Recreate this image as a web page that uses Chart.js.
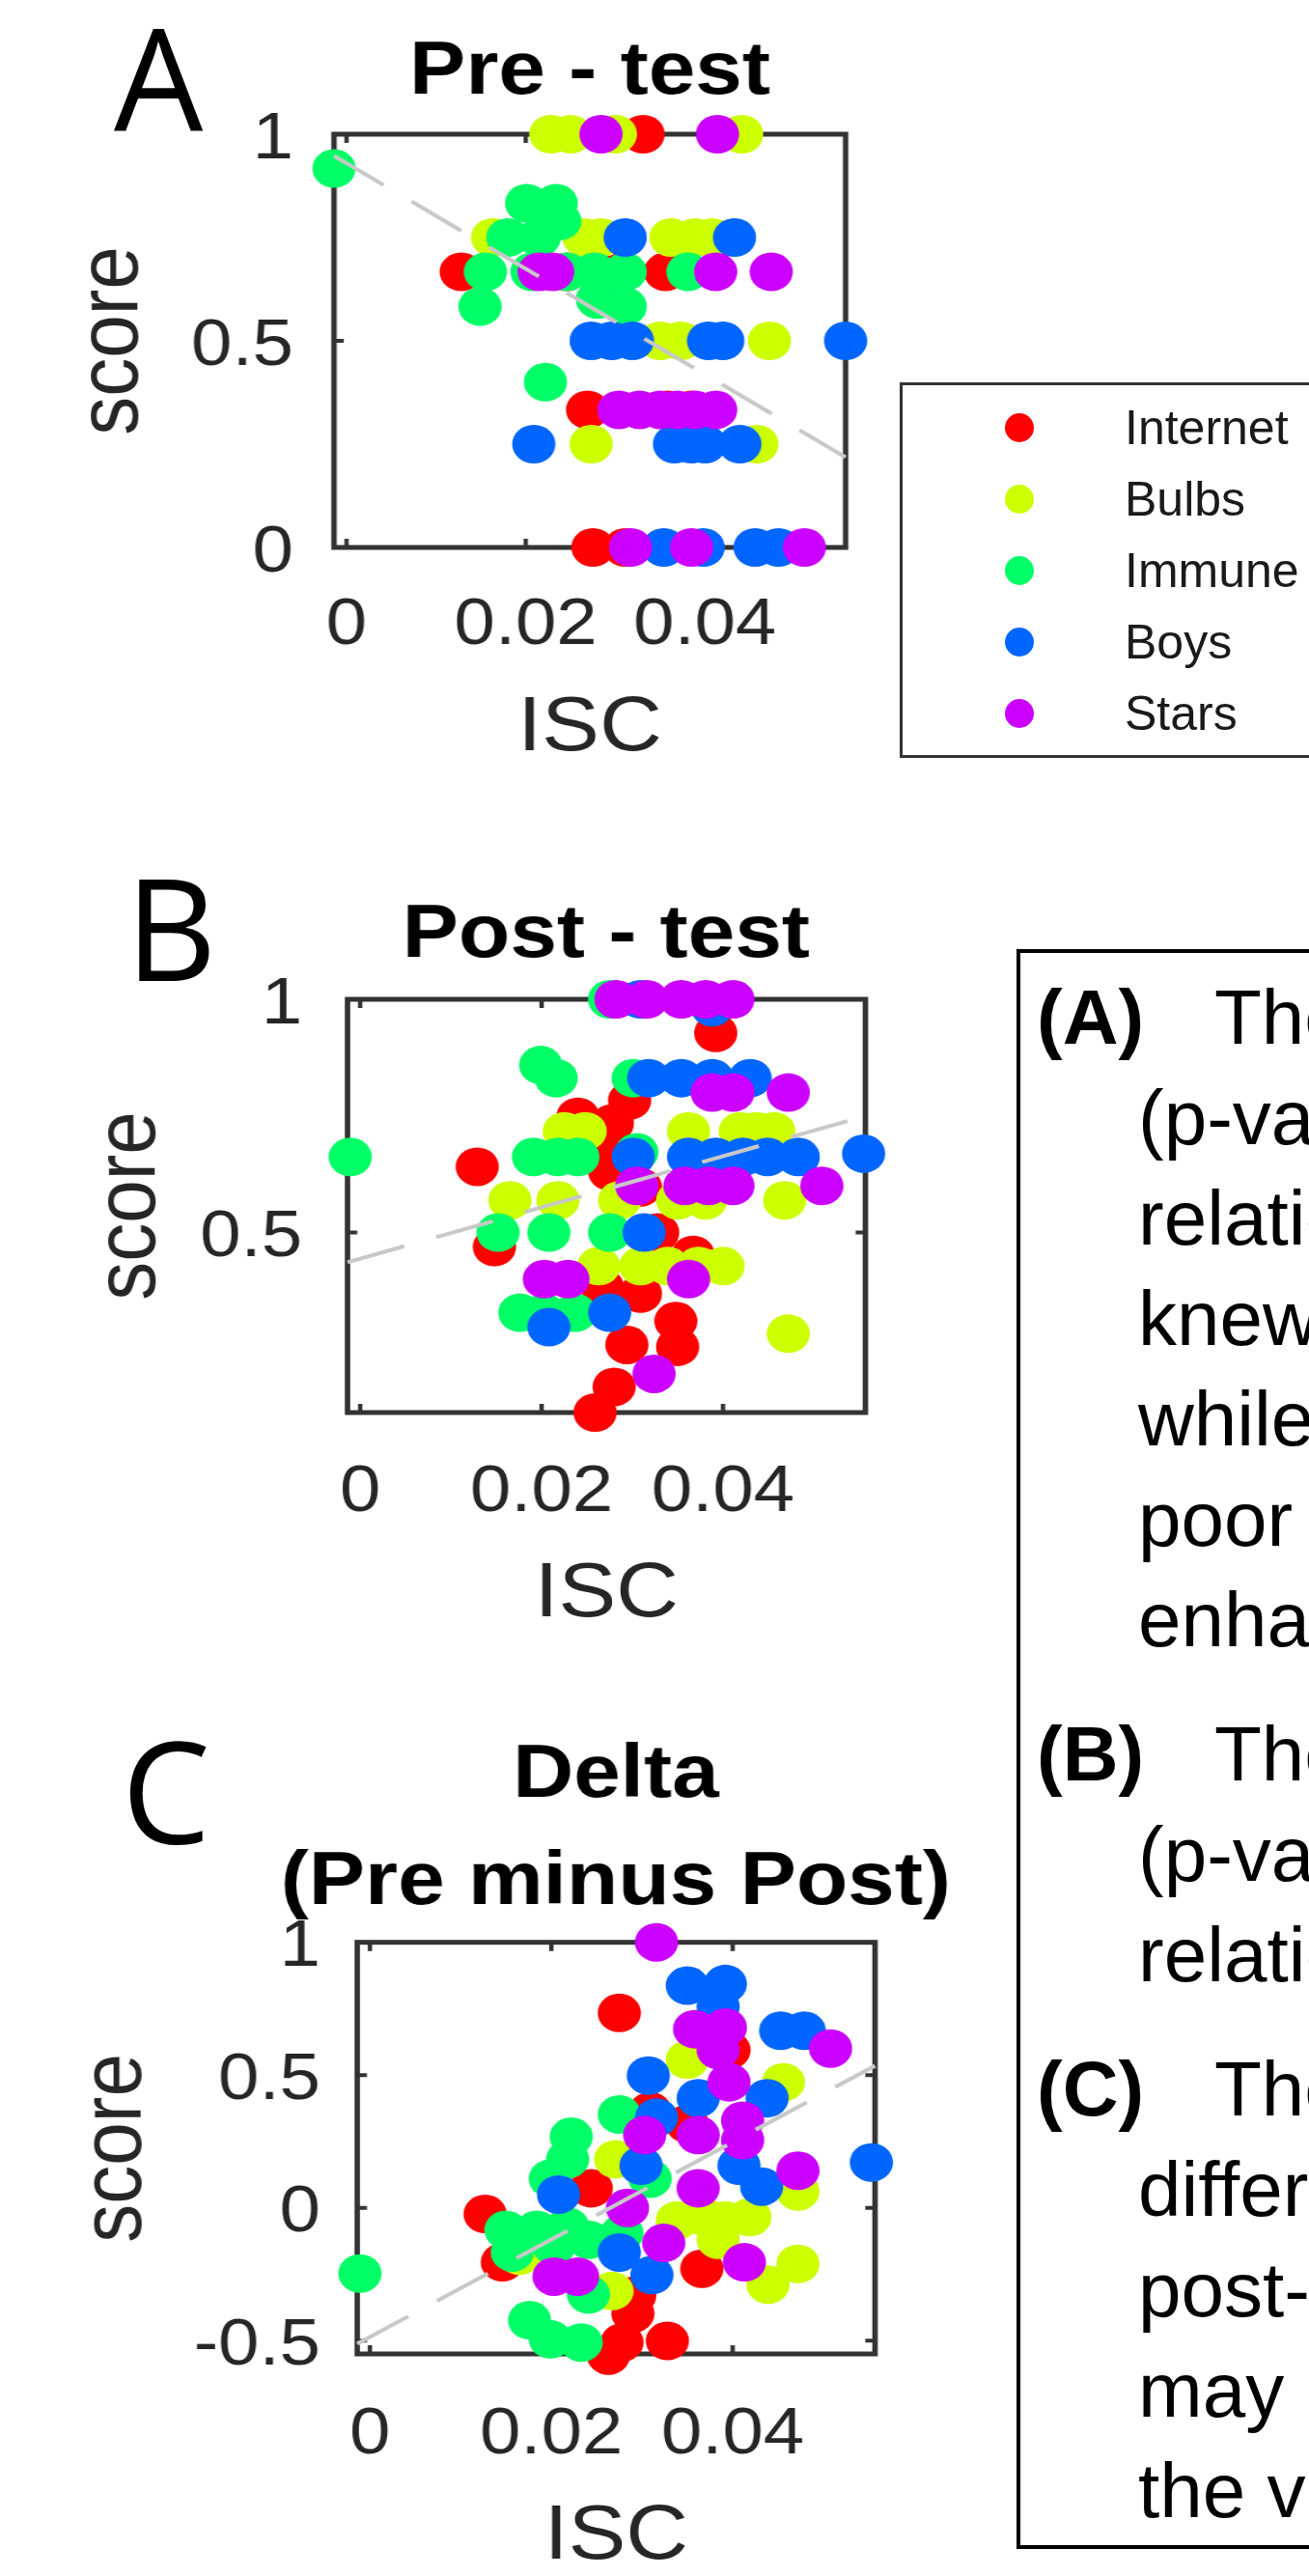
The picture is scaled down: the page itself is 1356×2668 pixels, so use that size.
<!DOCTYPE html>
<html>
<head>
<meta charset="utf-8">
<script src="https://cdn.jsdelivr.net/npm/chart.js@4.4.1/dist/chart.umd.min.js"></script>
<style>
html, body { margin: 0; padding: 0; background: #fff; }
#page { position: relative; width: 1356px; height: 2668px; overflow: hidden; font-family: "Liberation Sans", Arial, sans-serif; }
canvas.panel { position: absolute; left: 0; transform: scaleX(1.12); transform-origin: 0 0; }
.letter { position: absolute; font-family: "Open Sans", sans-serif; font-size: 146px; line-height: 1; color: #000; }
#legend { position: absolute; left: 932px; top: 396px; width: 560px; height: 383px; border: 3px solid #333; background: #fff; }
#legend .dot { position: absolute; width: 30px; height: 30px; border-radius: 50%; }
#legend .lab { position: absolute; left: 230px; font-size: 50px; line-height: 74px; color: #1a1a1a; white-space: nowrap; }
#notes { position: absolute; left: 1053px; top: 983px; width: 600px; height: 1657px; border: 4px solid #000; padding-top: 15px; box-sizing: border-box; background: #fff; }
#notes div { white-space: nowrap; font-size: 80px; line-height: 104px; height: 104px; color: #000; }
#notes .first { padding-left: 17px; }
#notes .first b { display: inline-block; width: 184px; }
#notes .ind { padding-left: 122px; }
#notes .gap { margin-top: 35px; }
</style>
</head>
<body>
<div id="page">
  <div class="letter" style="left:118px;top:6px;">A</div>
  <div class="letter" style="left:130px;top:887px;">B</div>
  <div class="letter" style="left:126px;top:1781px;">C</div>

  <canvas id="pre" class="panel" width="1091" height="800" style="top:0px;"></canvas>
  <canvas id="post" class="panel" width="1121" height="870" style="top:850px;"></canvas>
  <canvas id="delta" class="panel" width="1139" height="928" style="top:1740px;"></canvas>

  <div id="legend"></div>

  <div id="notes">
    <div class="first"><b>(A)</b>The</div>
    <div class="ind">(p-value</div>
    <div class="ind">relationship</div>
    <div class="ind">knew</div>
    <div class="ind">while</div>
    <div class="ind">poor</div>
    <div class="ind">enhanced</div>
    <div class="first gap"><b>(B)</b>The</div>
    <div class="ind">(p-value</div>
    <div class="ind">relationship</div>
    <div class="first gap"><b>(C)</b>The</div>
    <div class="ind">difference</div>
    <div class="ind">post-test</div>
    <div class="ind">may</div>
    <div class="ind">the v</div>
  </div>
</div>

<script>
// topics (MATLAB hsv(5) colours)
var topics = ['Internet', 'Bulbs', 'Immune', 'Boys', 'Stars'];
var topicColors = ['#ff0000', '#ccff00', '#00ff66', '#0066ff', '#cc00ff'];

// ISC axis
var iscRange = [-0.0014, 0.0557];
var iscTicks = [0, 0.02, 0.04];

// Pre-test: [ISC, score]
var preInternet = [[0.0331,1],[0.0128,0.667],[0.0246,0.667],[0.0280,0.667],[0.0308,0.667],[0.0356,0.667],[0.0269,0.333],[0.0358,0.333],[0.0385,0.333],[0.0275,0],[0.0311,0]];
var preBulbs = [[0.0228,1],[0.0250,1],[0.0300,1],[0.0441,1],[0.0163,0.75],[0.0265,0.75],[0.0284,0.75],[0.0362,0.75],[0.0389,0.75],[0.0408,0.75],[0.0350,0.5],[0.0373,0.5],[0.0472,0.5],[0.0273,0.25],[0.0458,0.25]];
var preImmune = [[-0.0014,0.917],[0.0201,0.833],[0.0234,0.833],[0.0238,0.79],[0.0180,0.75],[0.0215,0.75],[0.0155,0.667],[0.0207,0.667],[0.0246,0.667],[0.0277,0.667],[0.0311,0.667],[0.0381,0.667],[0.0149,0.583],[0.0280,0.6],[0.0311,0.583],[0.0222,0.4]];
var preBoys = [[0.0311,0.75],[0.0433,0.75],[0.0273,0.5],[0.0296,0.5],[0.0319,0.5],[0.0404,0.5],[0.0420,0.5],[0.0557,0.5],[0.0209,0.25],[0.0366,0.25],[0.0385,0.25],[0.0400,0.25],[0.0439,0.25],[0.0354,0],[0.0398,0],[0.0456,0],[0.0482,0]];
var preStars = [[0.0284,1],[0.0414,1],[0.0215,0.667],[0.0230,0.667],[0.0412,0.667],[0.0474,0.667],[0.0304,0.333],[0.0327,0.333],[0.0350,0.333],[0.0369,0.333],[0.0389,0.333],[0.0412,0.333],[0.0317,0],[0.0385,0],[0.0511,0]];
var preFit = [0.930, -12.78];   // intercept, slope
var preLim = [0, 1];
var preTicks = [0, 0.5, 1];

// Post-test
var postInternet = [[0.0392,0.928],[0.0297,0.783],[0.0278,0.734],[0.0240,0.748],[0.0267,0.666],[0.0275,0.631],[0.0129,0.641],[0.0309,0.597],[0.0148,0.469],[0.0328,0.50],[0.0367,0.452],[0.0309,0.369],[0.0267,0.383],[0.0348,0.31],[0.0350,0.255],[0.0294,0.259],[0.0280,0.169],[0.0259,0.114]];
var postBulbs = [[0.0225,0.717],[0.0248,0.717],[0.0362,0.717],[0.0419,0.717],[0.0437,0.717],[0.0456,0.717],[0.0165,0.569],[0.0218,0.569],[0.0286,0.569],[0.0350,0.569],[0.0381,0.569],[0.0468,0.569],[0.0263,0.428],[0.0309,0.428],[0.0339,0.428],[0.0373,0.428],[0.0400,0.428],[0.0472,0.283]];
var postImmune = [[0.0275,1],[0.0199,0.859],[0.0216,0.831],[0.0301,0.831],[-0.0011,0.662],[0.0191,0.662],[0.0218,0.662],[0.0240,0.662],[0.0305,0.672],[0.0152,0.5],[0.0208,0.5],[0.0275,0.5],[0.0176,0.328],[0.0203,0.328],[0.0237,0.328]];
var postBoys = [[0.0309,1],[0.0388,0.983],[0.0318,0.831],[0.0354,0.831],[0.0388,0.831],[0.0430,0.831],[0.0301,0.662],[0.0362,0.662],[0.0392,0.662],[0.0422,0.662],[0.0449,0.662],[0.0483,0.662],[0.0555,0.669],[0.0313,0.5],[0.0208,0.297],[0.0275,0.328]];
var postStars = [[0.0282,1],[0.0316,1],[0.0354,1],[0.0381,1],[0.0411,1],[0.0388,0.80],[0.0411,0.80],[0.0472,0.80],[0.0305,0.60],[0.0358,0.60],[0.0384,0.60],[0.0411,0.60],[0.0509,0.60],[0.0203,0.40],[0.0229,0.40],[0.0362,0.40],[0.0324,0.197]];
var postFit = [0.444, 5.49];
var postLim = [0.114, 1];
var postTicks = [0.5, 1];

// Delta (Pre minus Post)
var deltaInternet = [[0.0275,0.734],[0.0396,0.594],[0.0309,0.364],[0.0350,0.316],[0.0244,0.074],[0.0127,-0.023],[0.0146,-0.205],[0.0366,-0.229],[0.0292,-0.33],[0.0290,-0.398],[0.0278,-0.507],[0.0263,-0.556],[0.0328,-0.501]];
var deltaBulbs = [[0.0350,0.558],[0.0456,0.473],[0.0271,0.183],[0.0472,0.062],[0.0339,-0.047],[0.0369,-0.035],[0.0392,-0.047],[0.0419,-0.035],[0.0384,-0.12],[0.0165,-0.18],[0.0472,-0.211],[0.0439,-0.289],[0.0267,-0.313]];
var deltaImmune = [[-0.0011,-0.247],[0.0275,0.352],[0.0222,0.268],[0.0218,0.183],[0.0199,0.11],[0.0309,0.11],[0.0150,-0.083],[0.0184,-0.083],[0.0218,-0.071],[0.0241,-0.12],[0.0278,-0.096],[0.0157,-0.168],[0.0203,-0.144],[0.0241,-0.326],[0.0176,-0.423],[0.0199,-0.495],[0.0233,-0.507]];
var deltaBoys = [[0.0350,0.837],[0.0392,0.843],[0.0384,0.758],[0.0453,0.667],[0.0479,0.667],[0.0307,0.498],[0.0362,0.413],[0.0438,0.413],[0.0316,0.340],[0.0407,0.159],[0.0299,0.159],[0.0432,0.08],[0.0553,0.171],[0.0208,0.05],[0.0275,-0.168],[0.0311,-0.253]];
var deltaStars = [[0.0316,1],[0.0358,0.673],[0.0392,0.679],[0.0384,0.594],[0.0508,0.60],[0.0396,0.473],[0.0362,0.274],[0.0411,0.328],[0.0411,0.255],[0.0303,0.274],[0.0472,0.140],[0.0362,0.074],[0.0284,0.0],[0.0324,-0.132],[0.0413,-0.205],[0.0203,-0.259],[0.0229,-0.259]];
var deltaFit = [-0.486, 18.34];
var deltaLim = [-0.55, 1];
var deltaTicks = [-0.5, 0, 0.5, 1];

var FONT = '"Liberation Sans", Arial, sans-serif';
var AXIS = '#262626';

// box with inward ticks on all four sides, drawn under the markers
var boxPlugin = {
    id: 'box',
    beforeDatasetsDraw: function (chart) {
        var ctx = chart.ctx, a = chart.chartArea, x = chart.scales.x, y = chart.scales.y;
        ctx.save();
        ctx.strokeStyle = '#333';
        ctx.lineWidth = 5;
        ctx.strokeRect(a.left, a.top, a.right - a.left, a.bottom - a.top);
        ctx.lineWidth = 4;
        ctx.beginPath();
        x.ticks.forEach(function (t) {
            var px = x.getPixelForValue(t.value);
            ctx.moveTo(px, a.bottom); ctx.lineTo(px, a.bottom - 9);
            ctx.moveTo(px, a.top); ctx.lineTo(px, a.top + 9);
        });
        y.ticks.forEach(function (t) {
            var py = y.getPixelForValue(t.value);
            ctx.moveTo(a.left, py); ctx.lineTo(a.left + 9, py);
            ctx.moveTo(a.right, py); ctx.lineTo(a.right - 9, py);
        });
        ctx.stroke();
        ctx.restore();
    }
};

function makePanel(id, title, series, fit, lim, yTicks, lay) {
    var datasets = series.map(function (pts, i) {
        return {
            type: 'scatter',
            label: topics[i],
            data: pts.map(function (p) { return {x: p[0], y: p[1]}; }),
            backgroundColor: topicColors[i],
            borderWidth: 0,
            pointRadius: 20,
            pointHoverRadius: 20,
            order: 5 - i,
            clip: false
        };
    });
    datasets.push({
        type: 'line',
        label: 'fit',
        data: iscRange.map(function (x) { return {x: x, y: fit[0] + fit[1] * x}; }),
        borderColor: '#c8c8c8',
        borderWidth: 4,
        borderDash: [55, 31],
        pointRadius: 0,
        showLine: true,
        order: 0,
        clip: false
    });

    new Chart(document.getElementById(id), {
        type: 'scatter',
        data: {datasets: datasets},
        options: {
            responsive: false,
            animation: false,
            events: [],
            layout: {padding: 0},
            plugins: {
                legend: {display: false},
                tooltip: {enabled: false},
                title: {
                    display: true, text: title, color: '#000',
                    font: {family: FONT, size: 78, weight: 'bold', lineHeight: lay.tlh},
                    padding: {top: lay.tpt, bottom: lay.tpb}
                }
            },
            scales: {
                x: {
                    type: 'linear', min: iscRange[0], max: iscRange[1],
                    afterBuildTicks: function (s) { s.ticks = iscTicks.map(function (v) { return {value: v}; }); },
                    afterFit: function (s) { s.height = lay.xh; },
                    grid: {display: false, drawTicks: false},
                    border: {display: false},
                    ticks: {autoSkip: false, maxRotation: 0, padding: lay.xtp, color: AXIS,
                        font: {family: FONT, size: 68, lineHeight: 1},
                        callback: function (v) { return String(v); }},
                    title: {display: true, text: 'ISC', color: AXIS,
                        font: {family: FONT, size: 80, lineHeight: 1},
                        padding: {top: 0, bottom: lay.xtb}}
                },
                y: {
                    type: 'linear', min: lim[0], max: lim[1],
                    afterBuildTicks: function (s) { s.ticks = yTicks.map(function (v) { return {value: v}; }); },
                    afterFit: function (s) { s.width = lay.yw; },
                    grid: {display: false, drawTicks: false},
                    border: {display: false},
                    ticks: {autoSkip: false, padding: lay.ytp, labelOffset: 6, color: AXIS,
                        font: {family: FONT, size: 68, lineHeight: 1},
                        callback: function (v) { return String(v); }},
                    title: {display: true, text: 'score', color: AXIS,
                        font: {family: FONT, size: 80, lineHeight: 1},
                        padding: {top: lay.ytt, bottom: 0}}
                },
                // empty right-hand axis: only reserves room so the title centres over the box
                spacer: {
                    type: 'linear', position: 'right', min: lim[0], max: lim[1],
                    afterFit: function (s) { s.width = lay.pr; },
                    grid: {display: false, drawTicks: false},
                    border: {display: false},
                    ticks: {display: false}
                }
            }
        },
        plugins: [boxPlugin]
    });
}

makePanel('pre', 'Pre - test',
    [preInternet, preBulbs, preImmune, preBoys, preStars], preFit, preLim, preTicks,
    {pr: 308.9, tpt: 36, tpb: 25, tlh: 1, xh: 233, xtp: 47, xtb: 5, yw: 308.9, ytp: 37.5, ytt: 65.4});

makePanel('post', 'Post - test',
    [postInternet, postBulbs, postImmune, postBoys, postStars], postFit, postLim, postTicks,
    {pr: 320.6, tpt: 80, tpb: 27, tlh: 1, xh: 257, xtp: 49, xtb: 28, yw: 321.4, ytp: 41.9, ytt: 80.5});

makePanel('delta', ['Delta', '(Pre minus Post)'],
    [deltaInternet, deltaBulbs, deltaImmune, deltaBoys, deltaStars], deltaFit, deltaLim, deltaTicks,
    {pr: 329.7, tpt: 43.5, tpb: 6.2, tlh: 1.423, xh: 230, xtp: 50, xtb: 0, yw: 330.4, ytp: 34, ytt: 68});

// legend box
var legend = document.getElementById('legend');
topics.forEach(function (name, i) {
    var cy = 44 + 74 * i;
    var dot = document.createElement('span');
    dot.className = 'dot';
    dot.style.left = '106px';
    dot.style.top = (cy - 15) + 'px';
    dot.style.background = topicColors[i];
    legend.appendChild(dot);
    var lab = document.createElement('span');
    lab.className = 'lab';
    lab.style.top = (cy - 37) + 'px';
    lab.textContent = name;
    legend.appendChild(lab);
});
</script>
</body>
</html>
